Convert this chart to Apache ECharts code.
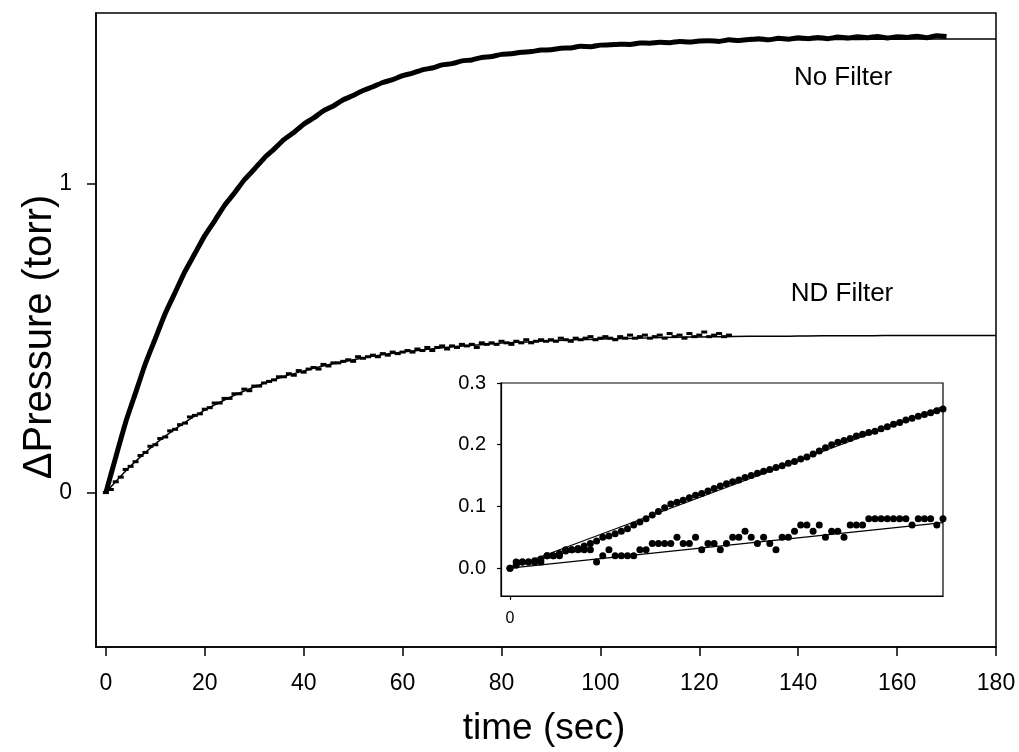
<!DOCTYPE html>
<html><head><meta charset="utf-8">
<script src="https://cdn.jsdelivr.net/npm/echarts@6/dist/echarts.min.js"></script>
<style>html,body{margin:0;padding:0;background:#fff}#c{width:1019px;height:752px}</style>
</head><body><div id="c"></div>
<script>
// ---- tick labels ----
const xTicks = [0, 20, 40, 60, 80, 100, 120, 140, 160, 180];
const yTicks = [0, 1];
const insetYTicks = [0, 0.1, 0.2, 0.3];
const insetXTicks = [0];

// ---- No Filter measured data (every 2 s, 0..170 s) ----
const noFilterStep = 2;
const noFilterData = [
  0.000, 0.115, 0.228, 0.323, 0.418, 0.499, 0.580, 0.648, 0.716, 0.774,
  0.832, 0.880, 0.930, 0.970, 1.013, 1.047, 1.083, 1.112, 1.143, 1.166,
  1.193, 1.213, 1.236, 1.252, 1.272, 1.286, 1.302, 1.314, 1.328, 1.337,
  1.350, 1.358, 1.369, 1.375, 1.385, 1.389, 1.398, 1.401, 1.409, 1.412,
  1.419, 1.421, 1.426, 1.428, 1.433, 1.434, 1.439, 1.440, 1.445, 1.444,
  1.449, 1.450, 1.452, 1.451, 1.456, 1.455, 1.458, 1.457, 1.461, 1.459,
  1.462, 1.463, 1.461, 1.466, 1.464, 1.467, 1.470, 1.466, 1.471, 1.468,
  1.473, 1.470, 1.474, 1.470, 1.475, 1.472, 1.476, 1.473, 1.477, 1.472,
  1.476, 1.474, 1.478, 1.473, 1.479, 1.477
];
// ---- fitted curves (every 5 s, 0..180 s) ----
const fitStep = 5;
const noFilterFit = [
  0.000, 0.276, 0.501, 0.683, 0.831, 0.951, 1.049, 1.128, 1.192, 1.245,
  1.287, 1.321, 1.349, 1.372, 1.391, 1.406, 1.418, 1.427, 1.435, 1.442,
  1.447, 1.451, 1.455, 1.458, 1.460, 1.462, 1.4635, 1.465, 1.466, 1.467,
  1.467, 1.468, 1.468, 1.469, 1.469, 1.469, 1.469
];
// ---- ND Filter measured data (every 1 s, 0..126 s) ----
const ndStep = 1;
const ndData = [
  0.000, 0.010, 0.035, 0.050, 0.075, 0.085, 0.100, 0.120, 0.130, 0.150,
  0.155, 0.175, 0.180, 0.200, 0.205, 0.220, 0.225, 0.245, 0.250, 0.255,
  0.270, 0.275, 0.290, 0.290, 0.305, 0.305, 0.320, 0.320, 0.335, 0.330,
  0.345, 0.345, 0.355, 0.360, 0.365, 0.375, 0.375, 0.385, 0.380, 0.395,
  0.390, 0.400, 0.405, 0.400, 0.415, 0.410, 0.420, 0.420, 0.425, 0.430,
  0.425, 0.440, 0.435, 0.440, 0.445, 0.440, 0.450, 0.445, 0.455, 0.450,
  0.455, 0.460, 0.455, 0.465, 0.460, 0.470, 0.460, 0.470, 0.475, 0.465,
  0.475, 0.470, 0.480, 0.475, 0.480, 0.470, 0.485, 0.480, 0.485, 0.480,
  0.490, 0.485, 0.480, 0.490, 0.485, 0.495, 0.485, 0.490, 0.495, 0.490,
  0.495, 0.490, 0.500, 0.495, 0.490, 0.500, 0.495, 0.500, 0.505, 0.495,
  0.500, 0.505, 0.500, 0.495, 0.505, 0.500, 0.510, 0.500, 0.505, 0.510,
  0.500, 0.505, 0.510, 0.500, 0.515, 0.505, 0.510, 0.500, 0.515, 0.505,
  0.510, 0.520, 0.505, 0.510, 0.515, 0.505, 0.510
];
const ndFit = [
  0.000, 0.086, 0.158, 0.217, 0.267, 0.308, 0.342, 0.371, 0.394, 0.414,
  0.430, 0.444, 0.455, 0.464, 0.472, 0.478, 0.484, 0.488, 0.492, 0.495,
  0.497, 0.499, 0.501, 0.503, 0.504, 0.505, 0.506, 0.506, 0.507, 0.508,
  0.508, 0.508, 0.509, 0.509, 0.509, 0.509, 0.509
];

// ---- inset: initial rise (every 0.06 s) ----
const insetStep = 0.06;
const insetNoFilter = [
  0.000, 0.005, 0.010, 0.010, 0.012, 0.015, 0.020, 0.020, 0.024, 0.028,
  0.030, 0.032, 0.036, 0.040, 0.044, 0.050, 0.052, 0.056, 0.060, 0.064,
  0.070, 0.075, 0.080, 0.086, 0.092, 0.098, 0.104, 0.107, 0.110, 0.114,
  0.118, 0.121, 0.125, 0.129, 0.133, 0.137, 0.140, 0.143, 0.147, 0.150,
  0.154, 0.157, 0.160, 0.163, 0.166, 0.170, 0.173, 0.177, 0.180, 0.185,
  0.190, 0.195, 0.200, 0.204, 0.207, 0.210, 0.214, 0.217, 0.220, 0.222,
  0.226, 0.229, 0.233, 0.236, 0.240, 0.243, 0.246, 0.249, 0.252, 0.255,
  0.258
];
const insetND = [
  0.00, 0.01, 0.01, 0.01, 0.01, 0.01, 0.02, 0.02, 0.02, 0.03,
  0.03, 0.03, 0.03, 0.03, 0.01, 0.02, 0.03, 0.02, 0.02, 0.02,
  0.02, 0.03, 0.03, 0.04, 0.04, 0.04, 0.04, 0.05, 0.04, 0.04,
  0.05, 0.03, 0.04, 0.04, 0.03, 0.04, 0.05, 0.05, 0.06, 0.05,
  0.04, 0.05, 0.04, 0.03, 0.05, 0.05, 0.06, 0.07, 0.07, 0.06,
  0.07, 0.05, 0.06, 0.06, 0.05, 0.07, 0.07, 0.07, 0.08, 0.08,
  0.08, 0.08, 0.08, 0.08, 0.08, 0.07, 0.08, 0.08, 0.08, 0.07,
  0.08
];
const insetFitTimes = [0, 4.2];
const insetNoFilterFit = [0, 0.262];
const insetNDFit = [0, 0.074];

// ---- build ----
const FONT = '"Liberation Sans", Arial, Helvetica, sans-serif';
const toPairs = (arr, step) => arr.map((v, i) => [+(i * step).toFixed(4), v]);
const zipPairs = (xs, ys) => xs.map((x, i) => [x, ys[i]]);

const chart = echarts.init(document.getElementById('c'), null, {renderer: 'canvas'});
const axisLineStyle = {color: '#000', width: 1.5};
chart.setOption({
  animation: false,
  backgroundColor: '#fff',
  grid: [
    {left: 96, top: 13, width: 900, height: 634, show: true, borderColor: '#000', borderWidth: 1.5, backgroundColor: 'transparent'},
    {left: 501, top: 383, width: 442, height: 213, show: true, borderColor: '#000', borderWidth: 1.2, backgroundColor: '#fff', z: 5}
  ],
  xAxis: [
    {type: 'value', gridIndex: 0, min: -2, max: 180,
      axisLine: {show: true, onZero: false, lineStyle: axisLineStyle},
      axisTick: {show: true, length: 9, inside: false, customValues: xTicks, lineStyle: axisLineStyle},
      axisLabel: {customValues: xTicks, margin: 25, fontSize: 23, color: '#000', fontFamily: FONT},
      splitLine: {show: false}},
    {type: 'value', gridIndex: 1, min: -0.087, max: 4.2, z: 6,
      axisLine: {show: true, onZero: false, lineStyle: {color: '#000', width: 1.2}},
      axisTick: {show: true, length: 4, customValues: insetXTicks, lineStyle: {color: '#000', width: 1.2}},
      axisLabel: {customValues: insetXTicks, margin: 15, fontSize: 16, color: '#000', fontFamily: FONT},
      splitLine: {show: false}}
  ],
  yAxis: [
    {type: 'value', gridIndex: 0, min: -0.5, max: 1.553,
      axisLine: {show: true, onZero: false, lineStyle: axisLineStyle},
      axisTick: {show: true, length: 9, customValues: yTicks, lineStyle: axisLineStyle},
      axisLabel: {customValues: yTicks, margin: 24, fontSize: 23, color: '#000', fontFamily: FONT},
      splitLine: {show: false}},
    {type: 'value', gridIndex: 1, min: -0.045, max: 0.3, z: 6,
      axisLine: {show: true, onZero: false, lineStyle: {color: '#000', width: 1.2}},
      axisTick: {show: true, length: 4, customValues: insetYTicks, lineStyle: {color: '#000', width: 1.2}},
      axisLabel: {customValues: insetYTicks, margin: 15, fontSize: 20, color: '#000', fontFamily: FONT,
        formatter: v => v.toFixed(1)},
      splitLine: {show: false}}
  ],
  series: [
    {name: 'No Filter fit', type: 'line', xAxisIndex: 0, yAxisIndex: 0, data: toPairs(noFilterFit, fitStep),
      showSymbol: false, symbol: 'none', smooth: 0.4, lineStyle: {color: '#000', width: 1.5}, z: 2},
    {name: 'No Filter', type: 'line', xAxisIndex: 0, yAxisIndex: 0, data: toPairs(noFilterData, noFilterStep),
      showSymbol: false, symbol: 'none', smooth: 0.2, lineStyle: {color: '#000', width: 5}, z: 3},
    {name: 'ND Filter fit', type: 'line', xAxisIndex: 0, yAxisIndex: 0, data: toPairs(ndFit, fitStep),
      showSymbol: false, symbol: 'none', smooth: 0.4, lineStyle: {color: '#000', width: 1.5}, z: 2},
    {name: 'ND Filter', type: 'scatter', xAxisIndex: 0, yAxisIndex: 0, data: toPairs(ndData, ndStep),
      symbol: 'rect', symbolSize: [6, 3], itemStyle: {color: '#000', opacity: 1}, z: 3},
    {name: 'inset No Filter fit', type: 'line', xAxisIndex: 1, yAxisIndex: 1, data: zipPairs(insetFitTimes, insetNoFilterFit),
      showSymbol: false, symbol: 'none', lineStyle: {color: '#000', width: 1.2}, z: 7},
    {name: 'inset ND fit', type: 'line', xAxisIndex: 1, yAxisIndex: 1, data: zipPairs(insetFitTimes, insetNDFit),
      showSymbol: false, symbol: 'none', lineStyle: {color: '#000', width: 1.2}, z: 7},
    {name: 'inset No Filter', type: 'scatter', xAxisIndex: 1, yAxisIndex: 1, data: toPairs(insetNoFilter, insetStep),
      symbol: 'circle', symbolSize: 7, itemStyle: {color: '#000', opacity: 1}, z: 8, clip: false},
    {name: 'inset ND', type: 'scatter', xAxisIndex: 1, yAxisIndex: 1, data: toPairs(insetND, insetStep),
      symbol: 'circle', symbolSize: 7, itemStyle: {color: '#000', opacity: 1}, z: 8, clip: false}
  ],
  graphic: [
    {type: 'text', x: 843, y: 78, style: {text: 'No Filter', font: '26px ' + FONT, fill: '#000', align: 'center', verticalAlign: 'middle'}},
    {type: 'text', x: 842, y: 294, style: {text: 'ND Filter', font: '26px ' + FONT, fill: '#000', align: 'center', verticalAlign: 'middle'}},
    {type: 'text', x: 544, y: 729, style: {text: 'time (sec)', font: '37px ' + FONT, fill: '#000', align: 'center', verticalAlign: 'middle'}},
    {type: 'text', x: 40, y: 337, rotation: Math.PI / 2, style: {text: 'ΔPressure (torr)', font: '40px ' + FONT, fill: '#000', align: 'center', verticalAlign: 'middle'}}
  ]
});
</script></body></html>
